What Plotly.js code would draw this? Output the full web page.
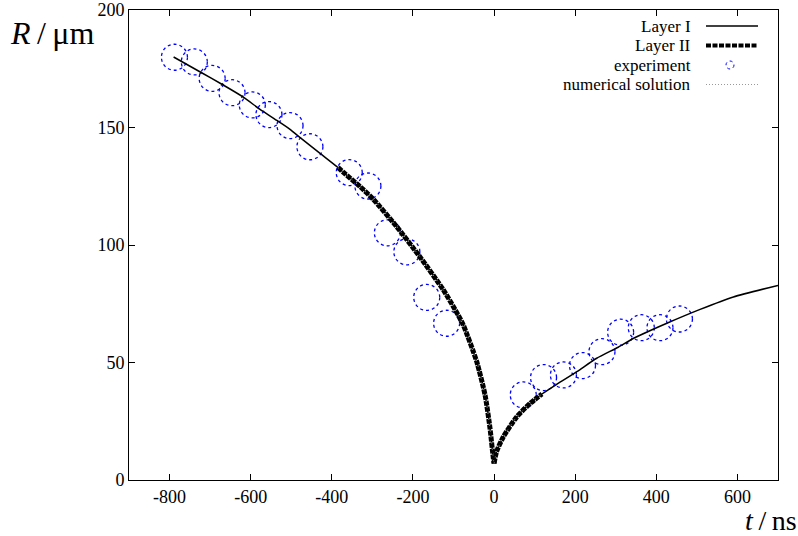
<!DOCTYPE html>
<html>
<head>
<meta charset="utf-8">
<script src="https://cdn.plot.ly/plotly-3.0.1.min.js"></script>
<style>html,body{margin:0;padding:0;background:#fff;}#chart{width:798px;height:536px;}</style>
</head>
<body>
<div id="chart"></div>
<script>
// Experimental points (t in ns, R in µm)
const expT = [-788,-739,-695,-646,-596,-555,-503,-454,-357,-311,-263,-215,-166,-117,72,122,171,218,266,312,363,409,457];
const expR = [179.9,177.9,170.9,164.8,159.6,155.5,150.8,141.8,130.8,125.1,105.2,97.1,77.7,66.7,36.2,43.6,44.7,48.7,54.6,62.9,64.8,64.8,68.5];

// Layer I curve, before and after collapse
const leftT  = [-790,-721,-671,-618,-577,-540,-503,-478,-429,-385,-372,-330,-298,-240,-183,-125,-96,-76,-43,-22,-10,-2,0];
const leftR  = [180,173.3,168.4,162.9,157.7,153.5,149.2,145.7,139,133,131,124.8,119.5,107.8,95,80.9,72.5,66,50.5,36,22,9.5,7];
const rightT = [0,6,23,56,89,118,155,204,253,306,344,426,508,590,700];
const rightR = [7,12,18.4,26.9,32.6,36.6,40.8,46.1,51.8,56.5,60.3,66.7,72.6,77.9,82.8];

// Layer II / numerical solution range
const layer2Start = -385;
const layer2End = 118;

// Axis ticks
const xTickVals = [-800,-600,-400,-200,0,200,400,600];
const xTickText = ["-800","-600","-400","-200","0","200","400","600"];
const yTickVals = [0,50,100,150,200];
const yTickText = ["0","50","100","150","200"];

const legendNames = ["Layer I","Layer II","experiment","numerical solution"];

function filt(T, R, f) {
  const t = [], r = [];
  T.forEach((v, i) => { if (f(v)) { t.push(v); r.push(R[i]); } });
  return {t, r};
}
const l2L = filt(leftT, leftR, v => v >= layer2Start);
const l2R = filt(rightT, rightR, v => v <= layer2End);

const serif = "Liberation Serif, Times New Roman, serif";
const sp = {shape: 'spline', smoothing: 0.6};

const traces = [
  {x: leftT, y: leftR, mode: 'lines', line: Object.assign({color: '#000', width: 1.5}, sp), showlegend: false, hoverinfo: 'skip'},
  {x: rightT, y: rightR, mode: 'lines', line: Object.assign({color: '#000', width: 1.5}, sp), showlegend: false, hoverinfo: 'skip'},
  {x: l2L.t, y: l2L.r, mode: 'lines', line: Object.assign({color: '#000', width: 5, dash: '5px,1px'}, sp), showlegend: false, hoverinfo: 'skip'},
  {x: l2R.t, y: l2R.r, mode: 'lines', line: Object.assign({color: '#000', width: 5, dash: '5px,1px'}, sp), showlegend: false, hoverinfo: 'skip'},
  {x: l2L.t, y: l2L.r, mode: 'lines', line: Object.assign({color: '#b0b0b0', width: 1, dash: '1px,5px'}, sp), showlegend: false, hoverinfo: 'skip'},
  {x: l2R.t, y: l2R.r, mode: 'lines', line: Object.assign({color: '#b0b0b0', width: 1, dash: '1px,5px'}, sp), showlegend: false, hoverinfo: 'skip'},
  {x: expT, y: expR, mode: 'markers', marker: {size: 1, color: 'rgba(0,0,0,0)'}, showlegend: false, hoverinfo: 'skip'}
];

const L = 129, Rt = 778, T = 10, B = 480;
const px = v => (v - L) / (Rt - L);
const py = v => (B - v) / (B - T);

const shapes = expT.map((t, i) => ({
  type: 'circle', xref: 'x', yref: 'y', xsizemode: 'pixel', ysizemode: 'pixel',
  xanchor: t, yanchor: expR[i], x0: -13, x1: 13, y0: -13, y1: 13,
  line: {color: '#0000ff', width: 1.3, dash: 'dot'}, layer: 'below'
}));

const legY = [26, 45.5, 65, 84.5];
shapes.push({type: 'line', xref: 'paper', yref: 'paper', x0: px(706), x1: px(758), y0: py(legY[0]), y1: py(legY[0]), line: {color: '#000', width: 1.5}});
shapes.push({type: 'line', xref: 'paper', yref: 'paper', x0: px(706), x1: px(758), y0: py(legY[1]), y1: py(legY[1]), line: {color: '#000', width: 4, dash: '5px,1.5px'}});
shapes.push({type: 'circle', xref: 'paper', yref: 'paper', xsizemode: 'pixel', ysizemode: 'pixel', xanchor: px(730), yanchor: py(legY[2]), x0: -4, x1: 4, y0: -4, y1: 4, line: {color: '#0000ff', width: 1, dash: 'dot'}});
shapes.push({type: 'line', xref: 'paper', yref: 'paper', x0: px(706), x1: px(758), y0: py(legY[3]), y1: py(legY[3]), line: {color: '#999', width: 1, dash: '1px,2px'}});

const annotations = legendNames.map((n, i) => ({
  text: n, xref: 'paper', yref: 'paper', x: px(692), y: py(legY[i]), xanchor: 'right', yanchor: 'middle',
  showarrow: false, borderpad: 0, font: {family: serif, size: 17, color: '#000'}
}));
annotations.push({text: '<i>R</i>\u2009/\u2009μm', xref: 'paper', yref: 'paper', x: px(8), y: py(33), xanchor: 'left', yanchor: 'middle', showarrow: false, font: {family: serif, size: 32, color: '#000'}});
annotations.push({text: '<i>t</i>\u2009/\u2009ns', xref: 'paper', yref: 'paper', x: px(798), y: py(520), xanchor: 'right', yanchor: 'middle', showarrow: false, borderpad: 0, font: {family: serif, size: 28, color: '#000'}});

const layout = {
  width: 798, height: 536,
  margin: {l: L, r: 798 - Rt, t: T, b: 536 - B},
  paper_bgcolor: '#fff', plot_bgcolor: '#fff',
  showlegend: false,
  font: {family: serif, size: 18, color: '#000'},
  xaxis: {range: [-900, 700], tickvals: xTickVals, ticktext: xTickText, ticks: 'inside', ticklen: 6, tickcolor: '#000',
          showline: true, linecolor: '#000', linewidth: 1, mirror: 'ticks', showgrid: false, zeroline: false,
          tickfont: {family: serif, size: 18, color: '#000'}},
  yaxis: {range: [0, 200], tickvals: yTickVals, ticktext: yTickText, ticks: 'inside', ticklen: 6, tickcolor: '#000',
          showline: true, linecolor: '#000', linewidth: 1, mirror: 'ticks', showgrid: false, zeroline: false,
          tickfont: {family: serif, size: 18, color: '#000'}},
  shapes: shapes,
  annotations: annotations
};

Plotly.newPlot('chart', traces, layout, {displayModeBar: false, staticPlot: true});
</script>
</body>
</html>
